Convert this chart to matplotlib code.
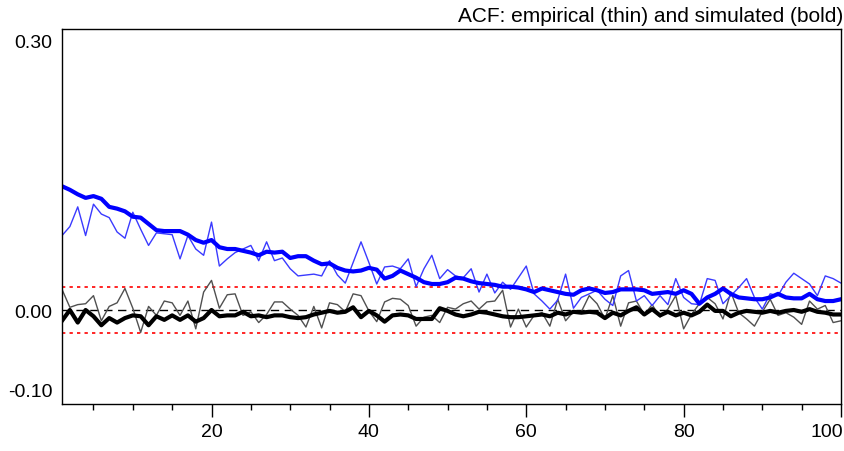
import numpy as np
import matplotlib
matplotlib.use('Agg')
import matplotlib.pyplot as plt
import matplotlib.transforms as mtransforms
from matplotlib.ticker import FixedLocator

plt.rcParams['font.family'] = ['Liberation Sans', 'DejaVu Sans']

lags = np.arange(1, 101)

# simulated (bold) and empirical (thin) autocorrelations
blue_sim = [0.138, 0.134, 0.129, 0.125, 0.127, 0.124, 0.115, 0.113, 0.110, 0.104,
            0.103, 0.096, 0.089, 0.088, 0.088, 0.088, 0.084, 0.078, 0.075, 0.078,
            0.070, 0.068, 0.068, 0.066, 0.064, 0.061, 0.065, 0.064, 0.065, 0.058,
            0.060, 0.060, 0.055, 0.051, 0.052, 0.047, 0.044, 0.043, 0.044, 0.047,
            0.045, 0.035, 0.038, 0.044, 0.040, 0.036, 0.031, 0.029, 0.029, 0.031,
            0.036, 0.035, 0.032, 0.030, 0.029, 0.028, 0.026, 0.026, 0.025, 0.023,
            0.020, 0.024, 0.022, 0.020, 0.018, 0.017, 0.022, 0.024, 0.022, 0.019,
            0.020, 0.023, 0.023, 0.023, 0.022, 0.018, 0.019, 0.020, 0.018, 0.022,
            0.018, 0.007, 0.014, 0.018, 0.024, 0.018, 0.014, 0.013, 0.012, 0.012,
            0.014, 0.018, 0.014, 0.013, 0.013, 0.018, 0.012, 0.010, 0.010, 0.012]

blue_emp = [0.083, 0.093, 0.115, 0.083, 0.118, 0.107, 0.103, 0.087, 0.080, 0.109,
            0.090, 0.072, 0.086, 0.085, 0.084, 0.057, 0.083, 0.068, 0.061, 0.098,
            0.049, 0.057, 0.064, 0.068, 0.072, 0.055, 0.076, 0.055, 0.058, 0.046,
            0.038, 0.039, 0.040, 0.038, 0.055, 0.039, 0.030, 0.053, 0.076, 0.053,
            0.029, 0.048, 0.049, 0.046, 0.057, 0.026, 0.046, 0.061, 0.035, 0.045,
            0.038, 0.036, 0.046, 0.020, 0.040, 0.019, 0.031, 0.023, 0.036, 0.049,
            0.018, 0.010, 0.001, 0.011, 0.040, 0.002, 0.014, 0.018, 0.022, 0.012,
            0.005, 0.038, 0.044, 0.010, 0.016, 0.005, 0.016, 0.006, 0.035, 0.014,
            0.007, 0.006, 0.035, 0.033, 0.007, 0.016, 0.025, 0.035, 0.014, 0.001,
            0.018, 0.016, 0.031, 0.041, 0.035, 0.029, 0.016, 0.038, 0.035, 0.030]

black_sim = [-0.012, 0.000, -0.014, 0.000, -0.007, -0.017, -0.009, -0.014, -0.009, -0.006,
             -0.007, -0.017, -0.007, -0.011, -0.006, -0.011, -0.006, -0.013, -0.009, 0.000,
             -0.007, -0.006, -0.006, -0.002, -0.007, -0.006, -0.008, -0.006, -0.006, -0.008,
             -0.009, -0.008, -0.005, -0.003, -0.001, -0.003, -0.002, 0.003, -0.008, -0.001,
             -0.006, -0.013, -0.006, -0.005, -0.006, -0.010, -0.010, -0.010, 0.002, -0.001,
             -0.005, -0.007, -0.005, -0.002, -0.003, -0.005, -0.007, -0.008, -0.008, -0.007,
             -0.006, -0.005, -0.007, -0.003, -0.005, -0.002, -0.003, -0.002, -0.003, -0.009,
             -0.003, -0.006, -0.001, 0.003, -0.005, 0.001, -0.006, -0.002, -0.006, -0.003,
             -0.006, -0.002, 0.006, -0.001, -0.001, -0.007, -0.003, -0.001, -0.002, -0.003,
             -0.001, -0.003, -0.001, 0.000, -0.002, 0.001, -0.002, -0.003, -0.005, -0.005]

black_emp = [0.023, 0.003, 0.006, 0.007, 0.016, -0.012, 0.004, 0.008, 0.024, 0.002,
             -0.025, 0.004, -0.006, 0.010, 0.008, -0.006, 0.010, -0.021, 0.020, 0.033,
             0.002, 0.017, 0.018, -0.006, -0.002, -0.014, -0.005, 0.009, 0.009, 0.001,
             -0.006, -0.019, 0.004, -0.020, 0.008, 0.006, -0.002, 0.018, 0.016, -0.001,
             -0.013, 0.009, 0.013, 0.012, 0.005, -0.018, -0.008, -0.006, -0.014, 0.003,
             0.001, 0.007, 0.010, 0.001, 0.009, 0.010, 0.022, -0.019, 0.001, -0.019,
             -0.006, -0.003, -0.018, 0.012, -0.012, -0.002, -0.002, 0.016, 0.007, -0.010,
             0.016, -0.018, 0.008, 0.010, -0.005, 0.006, -0.008, 0.001, 0.016, -0.021,
             -0.005, 0.007, 0.014, 0.007, -0.010, 0.020, -0.003, -0.010, -0.018, -0.002,
             0.012, -0.006, -0.003, -0.008, -0.016, 0.010, 0.001, 0.005, -0.014, -0.012]

band = 0.0255
ytick_vals = [0.30, 0.00, -0.10]
ytick_labels = ['0.30', '0.00', '-0.10']

fig = plt.figure(figsize=(8.45, 4.52), dpi=100)
ax = fig.add_axes([62/845, 1 - 405/452, (841 - 62)/845, (405 - 30)/452])

ax.axhline(band, color='red', lw=1.2, ls=(0, (2, 2.5)))
ax.axhline(-band, color='red', lw=1.2, ls=(0, (2, 2.5)))
ax.axhline(0, color='black', lw=1, ls=(0, (6, 4)))

ax.plot(lags, black_emp, color='#505050', lw=1)
ax.plot(lags, blue_emp, color='#3a3aff', lw=1)
ax.plot(lags, black_sim, color='black', lw=3)
ax.plot(lags, blue_sim, color='#0000ff', lw=3)

ax.set_xlim(1, 100)
ax.set_ylim(-0.1048, 0.3133)

ax.xaxis.set_major_locator(FixedLocator([20, 40, 60, 80, 100]))
ax.xaxis.set_minor_locator(FixedLocator([v for v in range(5, 100, 5) if v % 20]))
ax.tick_params(axis='x', which='major', length=9.5, width=1, labelsize=14, pad=4)
ax.tick_params(axis='x', which='minor', length=4.5, width=1)
ax.set_yticks(ytick_vals)
ax.set_yticklabels(ytick_labels)
ax.tick_params(axis='y', length=0, labelsize=14, pad=7)

for sp in ax.spines.values():
    sp.set_linewidth(1)

# lowest y label sits a little above its value in the original
lab = ax.get_yticklabels()[2]
lab.set_transform(lab.get_transform() + mtransforms.ScaledTranslation(0, 0.1, fig.dpi_scale_trans))

# keep the last x label inside the figure
last = ax.get_xticklabels()[-1]
last.set_horizontalalignment('right')
last.set_transform(last.get_transform() + mtransforms.ScaledTranslation(0.02, 0, fig.dpi_scale_trans))

fig.text(843/845, 1 - 16/452, 'ACF: empirical (thin) and simulated (bold)',
         ha='right', va='center', fontsize=15)

fig.savefig('out.png', dpi=100)
